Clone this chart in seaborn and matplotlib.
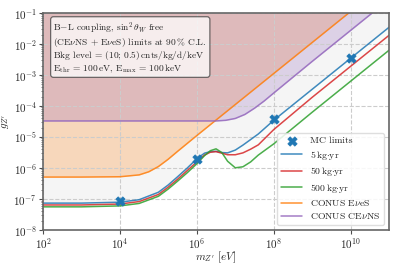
# plot.py
import numpy as np
import seaborn as sns
import matplotlib.pyplot as plt
from matplotlib.ticker import LogLocator, NullLocator, NullFormatter

sns.set_style("whitegrid", {"grid.linestyle": "--", "axes.edgecolor": "0.4",
                            "grid.color": "0.8"})
plt.rcParams["font.family"] = ["cmr10", "DejaVu Serif"]
plt.rcParams["mathtext.fontset"] = "cm"
plt.rcParams["axes.formatter.use_mathtext"] = True

# mediator masses [eV] for the exposure curves
m_exp = [1e2, 1e3, 1e4, 3.16e4, 1e5, 1.78e5, 3.16e5, 5.62e5, 1e6, 1.58e6,
         2.24e6, 3.16e6, 4.47e6, 6.31e6, 1e7, 1.58e7, 2.51e7, 3.98e7,
         1e8, 1e9, 1e10, 1e11]
g_5kg = [7.41e-8, 7.41e-8, 7.94e-8, 9.55e-8, 1.66e-7, 2.82e-7, 5.25e-7,
         1.0e-6, 2.0e-6, 3.02e-6, 3.39e-6, 3.47e-6, 3.16e-6, 3.09e-6, 3.80e-6,
         5.50e-6, 8.32e-6, 1.26e-5, 3.47e-5, 3.47e-4, 3.47e-3, 3.47e-2]
g_50kg = [6.46e-8, 6.46e-8, 6.92e-8, 8.32e-8, 1.41e-7, 2.40e-7, 4.37e-7,
          8.32e-7, 1.58e-6, 2.63e-6, 3.24e-6, 3.39e-6, 3.02e-6, 2.69e-6,
          2.69e-6, 3.09e-6, 4.07e-6, 5.62e-6, 1.74e-5, 1.91e-4, 1.91e-3, 1.91e-2]
g_500kg = [5.62e-8, 5.62e-8, 6.03e-8, 7.24e-8, 1.23e-7, 2.09e-7, 3.80e-7,
           7.08e-7, 1.38e-6, 2.51e-6, 3.63e-6, 4.17e-6, 3.16e-6, 1.66e-6,
           1.02e-6, 1.10e-6, 1.58e-6, 2.63e-6, 6.03e-6, 6.31e-5, 6.31e-4, 6.31e-3]

# CONUS limits
m_enes = [1e2, 1e3, 1e4, 3.16e4, 5.62e4, 1e5, 1.78e5, 3.16e5, 1e6, 1e7,
          1e8, 1e9, 1e10]
g_enes = [5.13e-7, 5.13e-7, 5.25e-7, 6.03e-7, 7.59e-7, 1.12e-6, 1.91e-6,
          3.47e-6, 1.12e-5, 1.12e-4, 1.12e-3, 1.12e-2, 1.12e-1]
m_cevns = [1e2, 1e6, 3.16e6, 5.62e6, 1e7, 1.78e7, 3.16e7, 5.62e7, 1e8,
           3.16e8, 1e9, 1e10, 1e11]
g_cevns = [3.31e-5, 3.31e-5, 3.31e-5, 3.47e-5, 3.98e-5, 5.37e-5, 8.51e-5,
           1.45e-4, 2.63e-4, 8.51e-4, 2.75e-3, 2.75e-2, 2.75e-1]

# MC limits
m_mc = [1e4, 1e6, 1e8, 1e10]
g_mc = [8.7e-8, 1.95e-6, 3.7e-5, 3.5e-3]

fig = plt.figure(figsize=(3.99, 2.66), dpi=100)
ax = fig.add_axes([0.108, 0.135, 0.867, 0.816])
ax.set_xscale("log")
ax.set_yscale("log")
ax.set_axisbelow("line")

# shaded regions
ax.fill_between(m_exp, g_500kg, g_5kg, color="tab:green", alpha=0.025, lw=0)
ax.fill_between(m_exp, g_5kg, 1, color="grey", alpha=0.08, lw=0)
ax.fill_between(m_enes, g_enes, 1, color="tab:orange", alpha=0.25, lw=0)
ax.fill_between(m_cevns, g_cevns, 1, color="tab:purple", alpha=0.25, lw=0)

sns.scatterplot(x=m_mc, y=g_mc, marker="X", s=45, color="tab:blue",
                edgecolor="tab:blue", zorder=5, ax=ax, label="MC limits")
sns.lineplot(x=m_exp, y=g_5kg, color="tab:blue", lw=1.1, alpha=0.85,
             ax=ax, label=r"5$\,$kg$\cdot$yr")
sns.lineplot(x=m_exp, y=g_50kg, color="tab:red", lw=1.1, alpha=0.85,
             ax=ax, label=r"50$\,$kg$\cdot$yr")
sns.lineplot(x=m_exp, y=g_500kg, color="tab:green", lw=1.1, alpha=0.85,
             ax=ax, label=r"500$\,$kg$\cdot$yr")
sns.lineplot(x=m_enes, y=g_enes, color="tab:orange", lw=1.1, alpha=0.85,
             ax=ax, label=r"CONUS E$\nu$eS")
sns.lineplot(x=m_cevns, y=g_cevns, color="tab:purple", lw=1.1, alpha=0.85,
             ax=ax, label=r"CONUS CE$\nu$NS")

ax.set_xlim(1e2, 1e11)
ax.set_ylim(1e-8, 1e-1)
ax.set_xticks([1e2, 1e4, 1e6, 1e8, 1e10])
ax.xaxis.set_minor_locator(NullLocator())
ax.yaxis.set_major_locator(LogLocator(base=10, numticks=12))
ax.yaxis.set_minor_locator(LogLocator(base=10, subs=np.arange(2, 10), numticks=12))
ax.yaxis.set_minor_formatter(NullFormatter())
ax.tick_params(axis="both", which="major", labelsize=8, length=3, width=0.8,
               color="0.3", pad=1.5)
ax.tick_params(axis="y", which="minor", length=1.5, width=0.5, color="0.3",
               left=True)
ax.tick_params(axis="y", which="major", left=True)
ax.tick_params(axis="x", which="major", bottom=True)
for s in ax.spines.values():
    s.set_linewidth(1.2)

ax.set_xlabel(r"$m_{Z'}$ [$eV$]", fontsize=8, labelpad=-1)
ax.set_ylabel(r"$g_{Z'}$", fontsize=8, labelpad=2)

ax.text(0.03, 0.965,
        "B$-$L coupling, $\\sin^2\\theta_W$ free\n"
        "(CE$\\nu$NS + E$\\nu$eS) limits at 90$\\,$% C.L.\n"
        "Bkg level = (10; 0.5)$\\,$cnts/kg/d/keV\n"
        "E$_\\mathrm{thr}$ = 100$\\,$eV, E$_\\mathrm{max}$ = 100$\\,$keV",
        transform=ax.transAxes, ha="left", va="top", fontsize=6.8,
        linespacing=1.0,
        bbox=dict(boxstyle="round,pad=0.3", fc="white", alpha=0.75,
                  ec="0.25", lw=0.9))

ax.legend(loc="lower right", fontsize=7, frameon=True, fancybox=True,
          framealpha=0.85, edgecolor="0.85", borderpad=0.4,
          handlelength=2.2, labelspacing=0.35, borderaxespad=0.5)

plt.savefig("out.png", dpi=100)
